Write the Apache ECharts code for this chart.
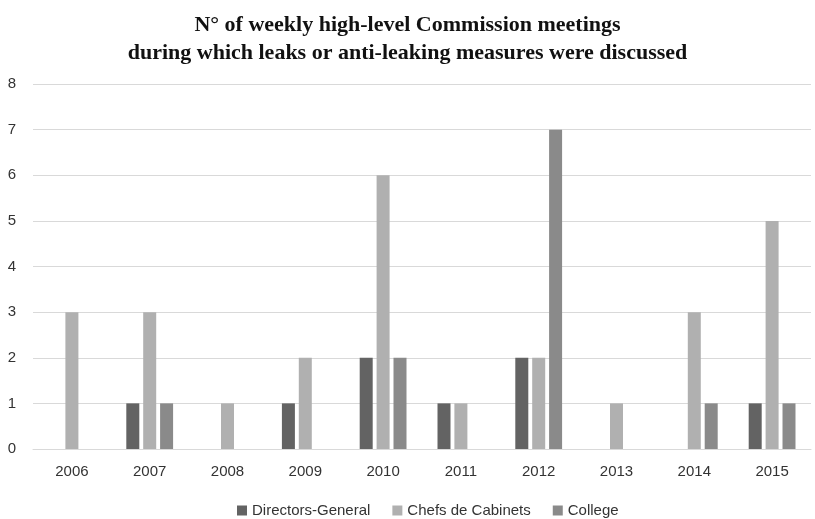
<!DOCTYPE html>
<html><head><meta charset="utf-8">
<script src="https://cdn.jsdelivr.net/npm/echarts@6/dist/echarts.min.js"></script>
<style>html,body{margin:0;padding:0;background:#fff}#c{width:815px;height:519px}</style>
</head><body><div id="c"></div>
<script>
const years = ['2006','2007','2008','2009','2010','2011','2012','2013','2014','2015'];
const directorsGeneral = [0,1,0,1,2,1,2,0,0,1];
const chefsDeCabinets = [3,3,1,2,6,1,2,1,3,5];
const college = [0,1,0,0,2,0,7,0,1,1];
const yTicks = [0,1,2,3,4,5,6,7,8];

const chart = echarts.init(document.getElementById('c'));
const font = 'Liberation Sans, Arial, sans-serif';
function bar(name, data, color){
  return {name, type:'bar', data, barWidth:13, barGap:'30%',
    itemStyle:{color}, emphasis:{disabled:true}};
}
chart.setOption({
  animation:false,
  title:{text:'N° of weekly high-level Commission meetings\nduring which leaks or anti-leaking measures were discussed',
    left:'center', top:6,
    textStyle:{fontFamily:'Liberation Serif, Times New Roman, serif', fontWeight:'bold', fontSize:22, lineHeight:28, color:'#111'}},
  legend:{top:498, left:232, itemWidth:10, itemHeight:10, itemGap:22, icon:'rect',
    textStyle:{fontFamily:font, fontSize:15, color:'#333'},
    data:['Directors-General','Chefs de Cabinets','College']},
  grid:{left:33, right:4, top:84, bottom:70},
  xAxis:{type:'category', data:years,
    axisLine:{lineStyle:{color:'#d9d9d9', width:1}}, axisTick:{show:false},
    axisLabel:{fontFamily:font, fontSize:15, color:'#333', margin:15}},
  yAxis:{type:'value', min:0, max:8, interval:1,
    axisLine:{show:false}, axisTick:{show:false},
    splitLine:{lineStyle:{color:'#d9d9d9', width:1}},
    axisLabel:{fontFamily:font, fontSize:15, color:'#333', margin:17,
      formatter:v=>String(yTicks[v])}},
  series:[
    bar('Directors-General', directorsGeneral, '#636363'),
    bar('Chefs de Cabinets', chefsDeCabinets, '#b0b0b0'),
    bar('College', college, '#8a8a8a')
  ]
});
</script></body></html>
